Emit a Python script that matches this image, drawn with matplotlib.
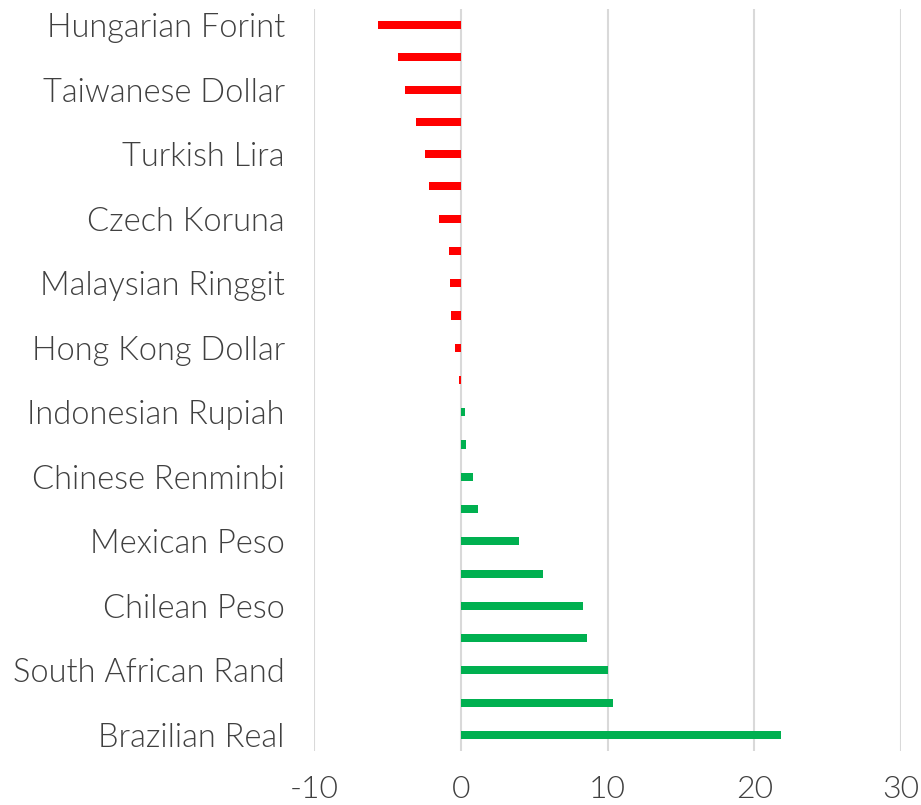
import matplotlib.pyplot as plt
import numpy as np

# only every other category name is shown in the original chart
categories = ['Hungarian Forint', '', 'Taiwanese Dollar', '', 'Turkish Lira', '',
              'Czech Koruna', '', 'Malaysian Ringgit', '', 'Hong Kong Dollar', '',
              'Indonesian Rupiah', '', 'Chinese Renminbi', '', 'Mexican Peso', '',
              'Chilean Peso', '', 'South African Rand', '', 'Brazilian Real']
values = [-5.66, -4.3, -3.82, -3.07, -2.45, -2.18, -1.5, -0.82, -0.75, -0.68,
          -0.41, -0.14, 0.3, 0.36, 0.84, 1.2, 4.0, 5.6, 8.3, 8.6, 10.05, 10.4, 21.83]
xticks = [-10, 0, 10, 20, 30]

plt.rcParams['font.family'] = ['Lato', 'DejaVu Sans']

fig = plt.figure(figsize=(9.21, 8.05), dpi=100)
ax = fig.add_axes([314/921, 1-751/805, 587/921, 742/805])

y = np.arange(len(categories))
colors = ['#ff0000' if v < 0 else '#00b050' for v in values]
ax.barh(y, values, height=0.25, color=colors, zorder=3)

ax.set_xlim(-10, 30)
ax.set_ylim(len(categories)-0.5, -0.5)
ax.set_xticks(xticks)
ax.set_xticklabels([str(t) for t in xticks], fontsize=23, color='#404040', fontweight=300)
ax.set_yticks(y)
ax.set_yticklabels(categories, fontsize=23.5, color='#404040', fontweight=300)
ax.tick_params(axis='both', length=0)
ax.tick_params(axis='y', pad=21)
ax.tick_params(axis='x', pad=17)
ax.grid(axis='x', color='#d9d9d9', linewidth=1.5, zorder=0)
for s in ax.spines.values():
    s.set_visible(False)

fig.savefig('out.png', dpi=100)
